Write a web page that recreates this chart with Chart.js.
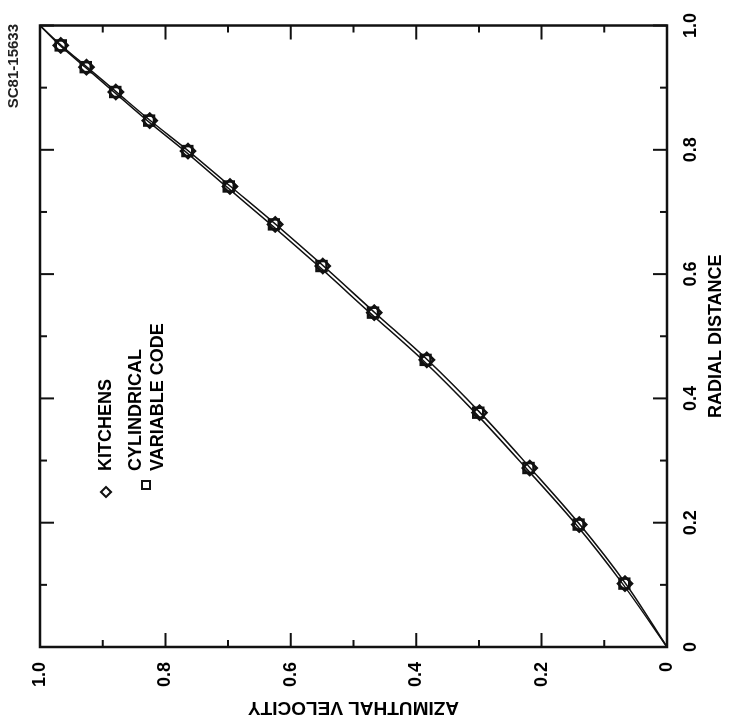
<!DOCTYPE html>
<html>
<head>
<meta charset="utf-8">
<script src="https://cdn.jsdelivr.net/npm/chart.js@4.4.0/dist/chart.umd.min.js"></script>
<style>
  html, body { margin: 0; padding: 0; background: #fff; overflow: hidden; }
  /* the figure is printed turned a quarter turn anticlockwise */
  #wrap { position: absolute; left: 0; top: 0; width: 721px; height: 730px;
          transform-origin: 0 0; transform: translateY(721px) rotate(-90deg); }
</style>
</head>
<body>
<div id="wrap"><canvas id="chart" width="721" height="730"></canvas></div>
<script>
// plotted points: radial distance vs azimuthal velocity
var radial = [0.102, 0.197, 0.288, 0.377, 0.462, 0.538, 0.613, 0.680, 0.741, 0.798, 0.847, 0.893, 0.933, 0.968];
var kitchens = [0.067, 0.140, 0.219, 0.299, 0.383, 0.467, 0.549, 0.625, 0.697, 0.764, 0.825, 0.879, 0.926, 0.967];
var variableCode = [0.068, 0.141, 0.221, 0.301, 0.385, 0.469, 0.551, 0.627, 0.699, 0.765, 0.826, 0.880, 0.927, 0.967];

// the two solid curves
var curveRadial = [0, 0.102, 0.197, 0.288, 0.377, 0.462, 0.538, 0.613, 0.680, 0.741, 0.798, 0.847, 0.893, 0.933, 0.968, 1];
var kitchensCurve = [0, 0.066, 0.139, 0.218, 0.298, 0.382, 0.466, 0.548, 0.624, 0.696, 0.763, 0.824, 0.878, 0.925, 0.966, 1];
var variableCodeCurve = [0, 0.071, 0.145, 0.225, 0.306, 0.390, 0.474, 0.556, 0.632, 0.703, 0.769, 0.829, 0.882, 0.928, 0.968, 1];

// tick marks every 0.1, labelled every 0.2
var tickValues = [0, 0.1, 0.2, 0.3, 0.4, 0.5, 0.6, 0.7, 0.8, 0.9, 1.0];
var majorTicks = [0, 0.2, 0.4, 0.6, 0.8, 1.0];
var tickLabels = ["0", "0.2", "0.4", "0.6", "0.8", "1.0"];

function pts(xs, ys) {
  return xs.map(function (x, i) { return { x: x, y: ys[i] }; });
}

function tickLabel(v) {
  var i = majorTicks.findIndex(function (t) { return Math.abs(t - v) < 1e-6; });
  return i >= 0 ? tickLabels[i] : "";
}

var FONT = '"Liberation Sans", Arial, sans-serif';
Chart.defaults.font.family = FONT;
Chart.defaults.color = "#000";

// box round the plot, inward ticks on all four sides, and the key
var framePlugin = {
  id: "frameBox",
  afterDatasetsDraw: function (chart) {
    var ctx = chart.ctx, a = chart.chartArea;
    var xs = chart.scales.x, ys = chart.scales.y;
    ctx.save();
    ctx.strokeStyle = "#111";
    ctx.lineWidth = 2.5;
    ctx.strokeRect(a.left, a.top, a.right - a.left, a.bottom - a.top);

    ctx.lineWidth = 2;
    ctx.beginPath();
    tickValues.forEach(function (v) {
      var len = tickLabel(v) !== "" ? 14 : 7;
      var px = xs.getPixelForValue(v);
      var py = ys.getPixelForValue(v);
      ctx.moveTo(px, a.bottom); ctx.lineTo(px, a.bottom - len);
      ctx.moveTo(px, a.top); ctx.lineTo(px, a.top + len);
      ctx.moveTo(a.left, py); ctx.lineTo(a.left + len, py);
      ctx.moveTo(a.right, py); ctx.lineTo(a.right - len, py);
    });
    ctx.stroke();

    // key
    ctx.lineWidth = 2;
    ctx.beginPath();
    ctx.moveTo(229, 101); ctx.lineTo(234, 106); ctx.lineTo(229, 111); ctx.lineTo(224, 106); ctx.closePath();
    ctx.stroke();
    ctx.strokeRect(232, 142, 8, 8);
    ctx.fillStyle = "#000";
    ctx.font = "bold 18px " + FONT;
    ctx.textBaseline = "middle";
    ctx.textAlign = "left";
    ctx.fillText("KITCHENS", 250, 106);
    ctx.fillText("CYLINDRICAL", 250, 136);
    ctx.fillText("VARIABLE CODE", 250, 158);
    ctx.restore();
  }
};

var lineStyle = {
  showLine: true, pointRadius: 0, borderColor: "#111", borderWidth: 1.5,
  cubicInterpolationMode: "monotone", fill: false
};

new Chart(document.getElementById("chart"), {
  type: "scatter",
  data: {
    datasets: [
      Object.assign({ label: "Kitchens curve", data: pts(curveRadial, kitchensCurve) }, lineStyle),
      Object.assign({ label: "Variable code curve", data: pts(curveRadial, variableCodeCurve) }, lineStyle),
      {
        label: "KITCHENS", data: pts(radial, kitchens), pointStyle: "rectRot",
        pointRadius: 7, borderWidth: 2.5, borderColor: "#111", backgroundColor: "rgba(0,0,0,0)"
      },
      {
        label: "CYLINDRICAL VARIABLE CODE", data: pts(radial, variableCode), pointStyle: "rect",
        pointRadius: 7, borderWidth: 2.5, borderColor: "#111", backgroundColor: "rgba(0,0,0,0)"
      }
    ]
  },
  options: {
    responsive: false,
    devicePixelRatio: 1,
    animation: false,
    layout: { padding: { top: 0, right: 24, left: 0, bottom: 0 } },
    plugins: {
      legend: { display: false },
      tooltip: { enabled: false },
      title: {
        display: true, text: "SC81-15633", align: "end",
        font: { size: 15, weight: "bold" }, color: "#222",
        padding: { top: 5, bottom: 17 }
      }
    },
    scales: {
      x: {
        type: "linear", position: "bottom", min: 0, max: 1,
        ticks: { stepSize: 0.1, callback: tickLabel, autoSkip: false, maxRotation: 0,
                 padding: 13, font: { size: 18, weight: "bold" }, color: "#000" },
        grid: { display: false, drawTicks: false, tickLength: 0 },
        border: { display: false },
        title: { display: true, text: "RADIAL DISTANCE", color: "#000",
                 font: { size: 18, weight: "bold" }, padding: { top: 0, bottom: 3 } },
        afterFit: function (s) { s.height = 63; }
      },
      y: {
        type: "linear", position: "left", min: 0, max: 1,
        ticks: { stepSize: 0.1, callback: tickLabel, autoSkip: false,
                 padding: 15, font: { size: 18, weight: "bold" }, color: "#000" },
        grid: { display: false, drawTicks: false, tickLength: 0 },
        border: { display: false },
        title: { display: true, text: "AZIMUTHAL VELOCITY", color: "#000",
                 font: { size: 19, weight: "bold" }, padding: { top: 2, bottom: 0 } },
        afterFit: function (s) { s.width = 74; }
      }
    }
  },
  plugins: [framePlugin]
});
</script>
</body>
</html>
